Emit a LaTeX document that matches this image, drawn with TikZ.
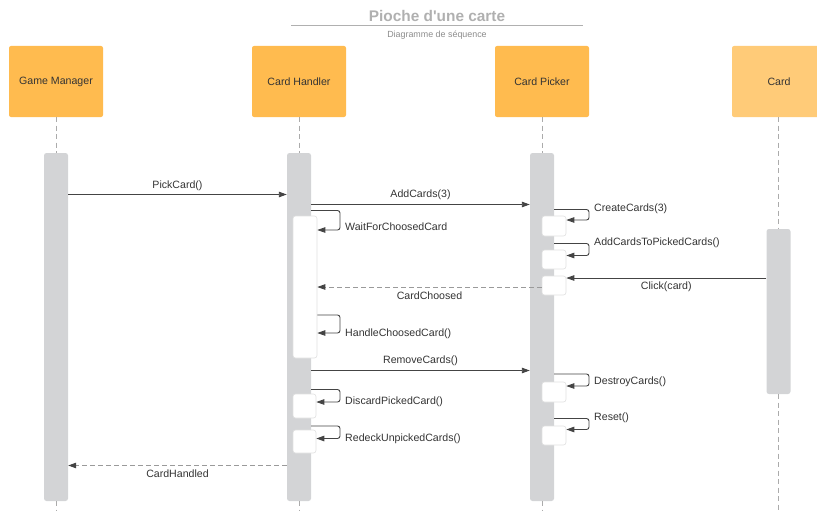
\documentclass[tikz,border=0pt]{standalone}
\usepackage{fontspec}
\setmainfont{Liberation Sans}
\usetikzlibrary{arrows.meta}
\definecolor{partfill}{HTML}{FFBB4F}
\definecolor{partlight}{HTML}{FFCB78}
\definecolor{barfill}{HTML}{D3D4D6}
\definecolor{txt}{HTML}{333333}
\definecolor{msgline}{HTML}{444444}
\definecolor{retline}{HTML}{9A9A9A}
\definecolor{lifeline}{HTML}{ABABAB}
\definecolor{titlegray}{HTML}{B0B0B0}
\tikzset{
  partbox/.style={draw=none, fill=partfill, rounded corners=2pt, minimum width=94pt, minimum height=71pt, inner sep=0pt, text=txt, font=\fontsize{10.6}{12}\selectfont},
  actbar/.style={draw=none, fill=barfill, rounded corners=2.5pt, minimum width=24pt, inner sep=0pt},
  subbox/.style={draw=black!12, line width=0.6pt, fill=white, rounded corners=2.5pt, minimum width=24pt, inner sep=0pt},
  lifeln/.style={draw=lifeline, line width=0.9pt, dash pattern=on 5pt off 3.5pt},
  msg/.style={draw=msgline, line width=0.9pt, -{Triangle[length=8pt,width=5.5pt]}},
  ret/.style={draw=retline, line width=0.9pt, dash pattern=on 5pt off 3pt, -{Triangle[length=8pt,width=5.5pt,color=msgline]}},
  selfmsg/.style={msg, rounded corners=2.5pt},
  lbl/.style={text=txt, font=\fontsize{10.6}{12}\selectfont, inner sep=0pt},
}
\begin{document}
\begin{tikzpicture}[x=1pt, y=-1pt]
\useasboundingbox (0,0) rectangle (817,511);
\clip (0,0) rectangle (817,511);

% title block
\node[text=titlegray, font=\bfseries\fontsize{15.4}{18}\selectfont, inner sep=0pt] (title) at (437,16) {Pioche d\textquotesingle une carte};
\coordinate (tl) at (291,26);
\coordinate (tr) at (583,26);
\draw[draw=titlegray, line width=1pt] (tl) -- (tr);
\node[text=black!45, font=\fontsize{8.9}{10}\selectfont, inner sep=0pt] (subtitle) at (437,35) {Diagramme de séquence};

% participants
\node[partbox] (gm) at (56,81.5) {Game Manager};
\node[partbox] (ch) at (299,81.5) {Card Handler};
\node[partbox] (cp) at (542,81.5) {Card Picker};
\node[partbox, fill=partlight] (cd) at (779,81.5) {Card};

% activation bars
\node[actbar, minimum height=348pt] (gmbar) at (56,327) {};
\node[actbar, minimum height=348pt] (chbar) at (299,327) {};
\node[actbar, minimum height=348pt] (cpbar) at (542,327) {};
\node[actbar, minimum height=165pt] (cdbar) at (778.5,311.5) {};

% lifelines
\coordinate (gmend) at (56,511);
\coordinate (chend) at (299,511);
\coordinate (cpend) at (542,511);
\coordinate (cdend) at (778.5,511);
\draw[lifeln] (gm.south) -- (gmbar.north);
\draw[lifeln] (gmbar.south) -- (gmend);
\draw[lifeln] (ch.south) -- (chbar.north);
\draw[lifeln] (chbar.south) -- (chend);
\draw[lifeln] (cp.south) -- (cpbar.north);
\draw[lifeln] (cpbar.south) -- (cpend);
\draw[lifeln] (cd.south -| cdbar.north) -- (cdbar.north);
\draw[lifeln] (cdbar.south) -- (cdend);

% nested activations
\node[subbox, minimum height=142pt] (wait) at (305,287) {};
\node[subbox, minimum width=23pt, minimum height=24pt] (discard) at (304.5,406) {};
\node[subbox, minimum width=23pt, minimum height=23pt] (redeck) at (304.5,441.5) {};
\node[subbox, minimum height=20pt] (create) at (554,226) {};
\node[subbox, minimum height=19pt] (addpk) at (554,259.5) {};
\node[subbox, minimum height=19pt] (click) at (554,285.5) {};
\node[subbox, minimum height=20pt] (destroy) at (554,392) {};
\node[subbox, minimum height=19pt] (reset) at (554,435.5) {};

% messages between lifelines
\draw[msg] (gmbar.east |- 0,194.5) -- node[lbl, yshift=9pt] {PickCard()} (chbar.west |- 0,194.5);
\draw[msg] (chbar.east |- 0,204.5) -- node[lbl, yshift=10pt] {AddCards(3)} (cpbar.west |- 0,204.5);
\draw[ret] (click.west |- 0,287) -- node[lbl, yshift=-9pt] {CardChoosed} (wait.east |- 0,287);
\draw[msg] (cdbar.west |- 0,278) -- node[lbl, yshift=-8.5pt] {Click(card)} (click.east |- 0,278);
\draw[msg] (chbar.east |- 0,370.5) -- node[lbl, yshift=9.5pt] {RemoveCards()} (cpbar.west |- 0,370.5);
\draw[ret] (chbar.west |- 0,465.5) -- node[lbl, yshift=-8pt] {CardHandled} (gmbar.east |- 0,465.5);

% self messages on Card Handler
\draw[selfmsg] (chbar.east |- 0,210.5) -- (340,210.5) -- (340,230) -- (wait.east |- 0,230);
\node[lbl, anchor=west] (lwait) at (345,227) {WaitForChoosedCard};
\draw[selfmsg] (wait.east |- 0,315) -- (340,315) -- (340,333) -- (wait.east |- 0,333);
\node[lbl, anchor=west] (lhandle) at (345,334) {HandleChoosedCard()};
\draw[selfmsg] (chbar.east |- 0,389.5) -- (340,389.5) -- (340,402) -- (discard.east |- 0,402);
\node[lbl, anchor=west] (ldiscard) at (345,401.5) {DiscardPickedCard()};
\draw[selfmsg] (chbar.east |- 0,426) -- (340,426) -- (340,438.5) -- (redeck.east |- 0,438.5);
\node[lbl, anchor=west] (lredeck) at (345,438.5) {RedeckUnpickedCards()};

% self messages on Card Picker
\draw[selfmsg] (cpbar.east |- 0,209.5) -- (589,209.5) -- (589,220) -- (create.east |- 0,220);
\node[lbl, anchor=west] (lcreate) at (594,209) {CreateCards(3)};
\draw[selfmsg] (cpbar.east |- 0,243.5) -- (589,243.5) -- (589,255.5) -- (addpk.east |- 0,255.5);
\node[lbl, anchor=west] (laddpk) at (594,242.5) {AddCardsToPickedCards()};
\draw[selfmsg] (cpbar.east |- 0,374) -- (589,374) -- (589,386) -- (destroy.east |- 0,386);
\node[lbl, anchor=west] (ldestroy) at (594,381.5) {DestroyCards()};
\draw[selfmsg] (cpbar.east |- 0,418.5) -- (589,418.5) -- (589,429.5) -- (reset.east |- 0,429.5);
\node[lbl, anchor=west] (lreset) at (594,417.5) {Reset()};
\end{tikzpicture}
\end{document}
